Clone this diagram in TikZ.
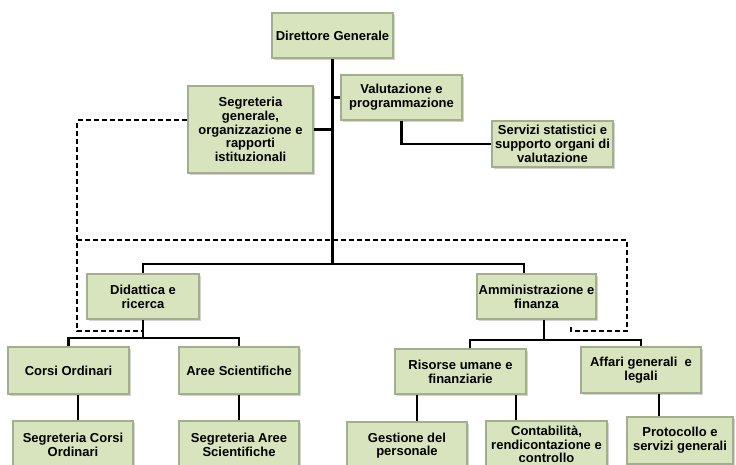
\documentclass[tikz,border=0pt]{standalone}
\usepackage{fontspec}
\setmainfont{Liberation Sans}
\usetikzlibrary{shadows}

\definecolor{boxfill}{HTML}{D7E4BD}
\definecolor{boxline}{HTML}{A3AE8C}

\begin{document}
\begin{tikzpicture}[x=1pt, y=-1pt, line width=2.4pt,
  unit/.style={draw=boxline, line width=1.2pt, fill=boxfill, align=center,
    inner sep=1pt, font=\fontsize{13}{13.7}\selectfont\bfseries,
    drop shadow={shadow xshift=1.5pt, shadow yshift=-1.5pt, opacity=0.35}},
  link/.style={line width=2.4pt},
  dotlink/.style={line width=2.4pt, dash pattern=on 5pt off 3pt}]

\useasboundingbox (0,0) rectangle (736,464);
\clip (0,0) rectangle (736,464);

% staff offices
\draw[dotlink] (250.5,120) -| (77,331) -- (143,331);
\draw[dotlink] (77,240) -- (627,240) -- (627,331) -- (571,331) -- (571,325);

\node[unit, minimum width=121pt, minimum height=45pt] (dg) at (332.5,35.5) {Direttore Generale};
\node[unit, minimum width=121pt, minimum height=45pt] (val) at (401.5,97.5) {Valutazione e\\programmazione};
\node[unit, minimum width=125pt, minimum height=87pt] (seg) at (250.5,129.5) {Segreteria\\generale,\\organizzazione e\\rapporti\\istituzionali};
\node[unit, minimum width=121pt, minimum height=46pt] (serv) at (552.5,144) {Servizi statistici e\\supporto organi di\\valutazione};

% areas
\node[unit, minimum width=112pt, minimum height=45pt] (did) at (143,296.5) {Didattica e\\ricerca};
\node[unit, minimum width=119pt, minimum height=45pt] (amm) at (536.5,296.5) {Amministrazione e\\finanza};

\node[unit, minimum width=121pt, minimum height=47pt] (corsi) at (68.5,370.5) {Corsi Ordinari};
\node[unit, minimum width=120pt, minimum height=47pt] (aree) at (239,370.5) {Aree Scientifiche};
\node[unit, minimum width=131pt, minimum height=45pt] (ris) at (460.5,371.5) {Risorse umane e\\finanziarie};
\node[unit, minimum width=120pt, minimum height=46pt] (aff) at (641,370) {Affari generali\ \ e\\legali};

\node[unit, minimum width=120pt, minimum height=47pt] (segc) at (73,444.5) {Segreteria Corsi\\Ordinari};
\node[unit, minimum width=120pt, minimum height=47pt] (sega) at (239,444.5) {Segreteria Aree\\Scientifiche};
\node[unit, minimum width=120pt, minimum height=47pt] (gest) at (407,445.5) {Gestione del\\personale};
\node[unit, minimum width=121pt, minimum height=47pt] (cont) at (546.5,444.5) {Contabilità,\\rendicontazione e\\controllo};
\node[unit, minimum width=106pt, minimum height=47pt] (prot) at (680,440.5) {Protocollo e\\servizi generali};

\coordinate (top) at (332.5,264);
\coordinate (didout) at (143,338);
\coordinate (ammout) at (544,340);

\draw[link] (dg.south) -- (top);
\draw[link] (dg.south |- val.west) -- (val.west);
\draw[link] (seg.east) -- (seg.east -| dg.south);
\draw[link] (val.south) |- (serv.west);

\draw[link] (did.north) |- (top) -| ([xshift=-12.5pt]amm.north);

\draw[link] (did.south) -- (didout);
\draw[link] (corsi.north) |- (didout) -| (aree.north);
\draw[link] ([xshift=7.5pt]amm.south) -- (ammout);
\draw[link] ([xshift=9.5pt]ris.north) |- (ammout) -| (aff.north);

\draw[link] ([xshift=9.5pt]corsi.south) -- ([xshift=5pt]segc.north);
\draw[link] (aree.south) -- (sega.north);
\draw[link] ([xshift=-43.5pt]ris.south) -- ([xshift=10pt]gest.north);
\draw[link] ([xshift=55.5pt]ris.south) -- ([xshift=-30.5pt]cont.north);
\draw[link] ([xshift=18pt]aff.south) -- ([xshift=-21pt]prot.north);

\end{tikzpicture}
\end{document}
